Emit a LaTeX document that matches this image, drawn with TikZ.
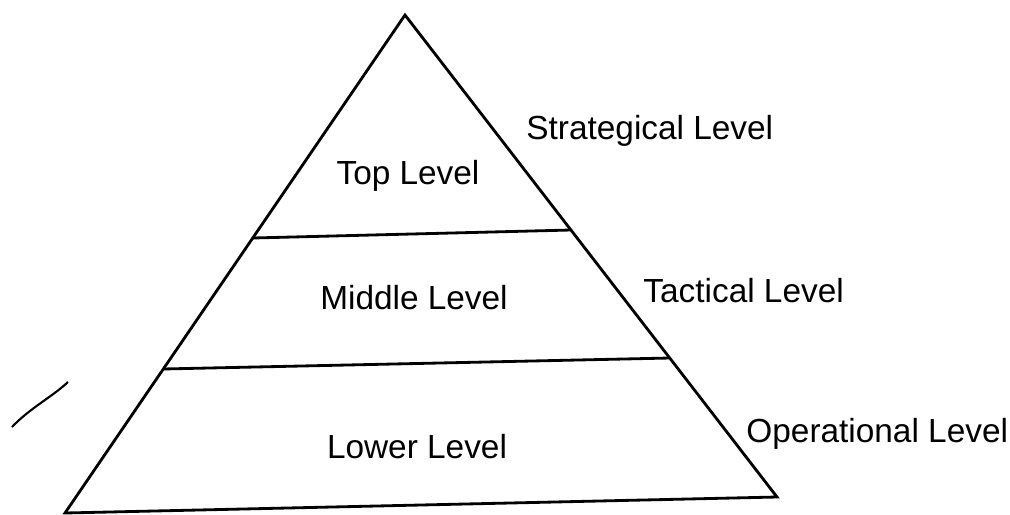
\documentclass[tikz,border=0pt]{standalone}
\usepackage{fontspec}
\setmainfont{Liberation Sans}
\usetikzlibrary{positioning}

\begin{document}
\begin{tikzpicture}[x=0.02cm,y=-0.02cm,line width=1.6pt]
  \tikzstyle{level}=[font=\fontsize{19}{23}\selectfont,inner sep=0pt]
  \tikzstyle{tier}=[level,anchor=west]

  \useasboundingbox (0,0) rectangle (1010,514);

  \coordinate (apex) at (405,15);
  \coordinate (bl)   at (65,513);
  \coordinate (br)   at (777,497);
  \coordinate (tl)   at (253,238);
  \coordinate (tr)   at (571,230);
  \coordinate (ml)   at (163,369);
  \coordinate (mr)   at (670,358);
  \coordinate (ma)   at (12,427);
  \coordinate (mb)   at (68,382);

  \draw[line join=miter] (apex) -- (bl) -- (br) -- cycle;
  \draw (tl) -- (tr);
  \draw (ml) -- (mr);
  \draw[line width=1.2pt] (ma) .. controls (30,408) and (52,397) .. (mb);

  \node[level] (top)    at (408,176) {Top Level};
  \node[level] (middle) at (414,298) {Middle Level};
  \node[level] (lower)  at (417,447) {Lower Level};

  \node[tier] (strategical) at (525,131) {Strategical Level};
  \node[tier] (tactical)    at (642,291) {Tactical Level};
  \node[tier] (operational) at (745,434) {Operational Level};
\end{tikzpicture}
\end{document}
